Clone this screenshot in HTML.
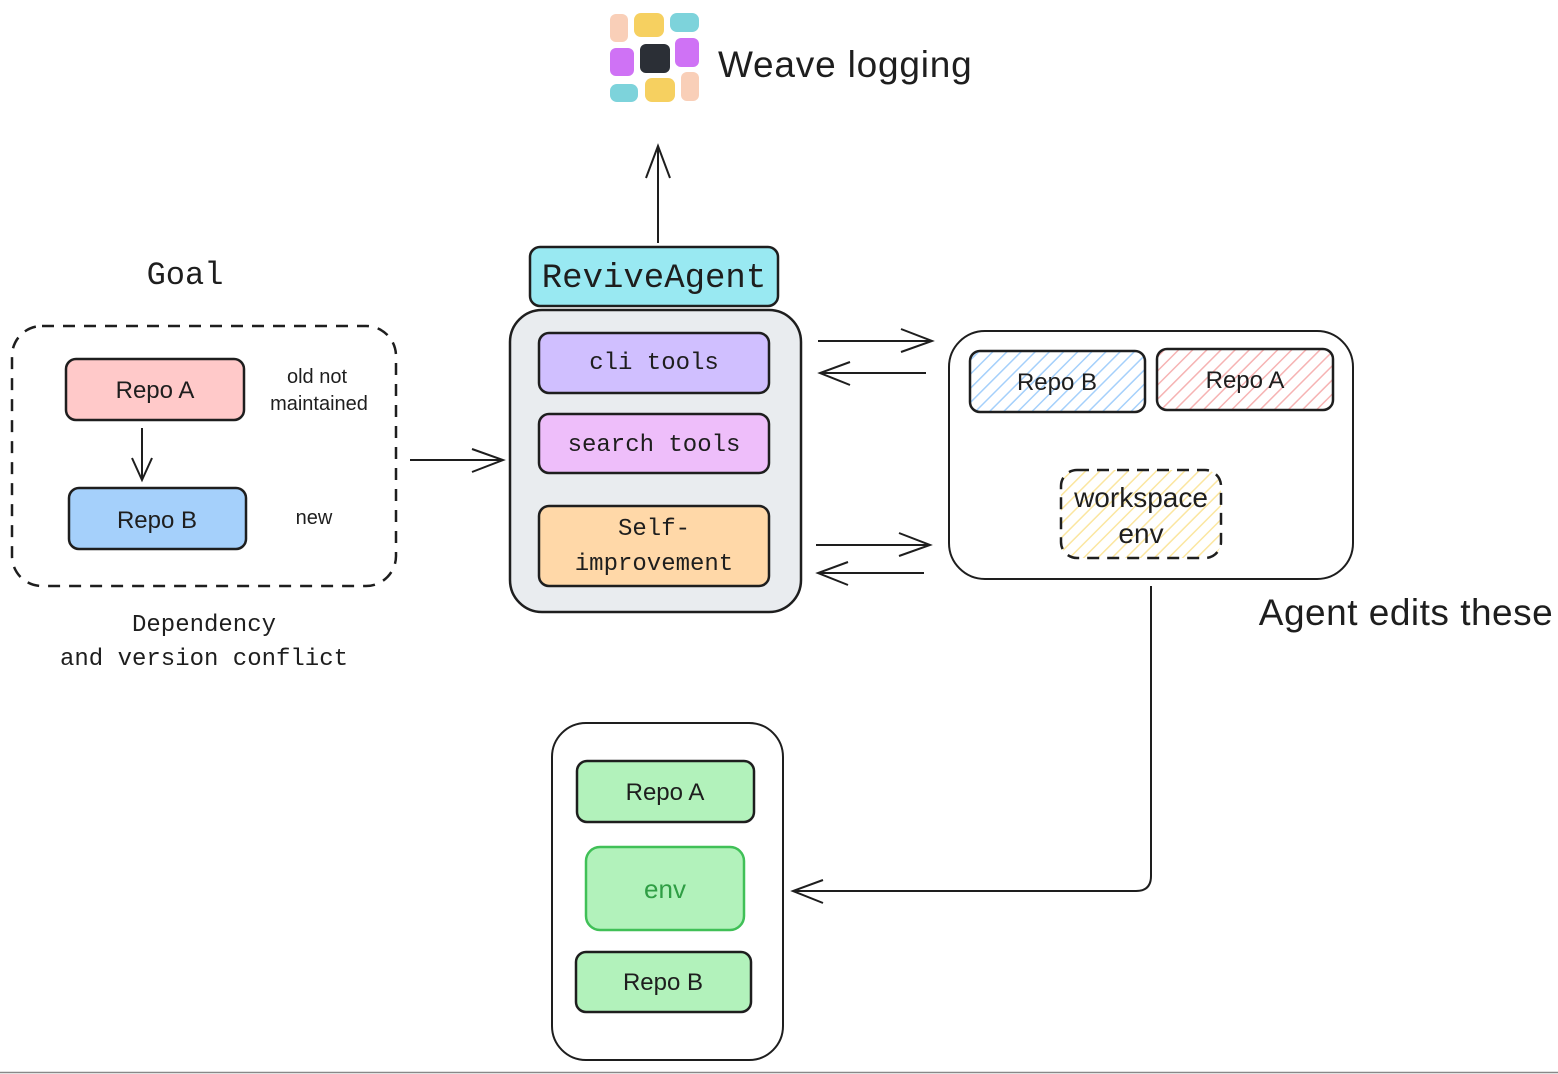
<!DOCTYPE html>
<html><head><meta charset="utf-8"><style>
html,body{margin:0;padding:0;background:#fff}
svg{display:block}
text{font-family:"Liberation Sans",sans-serif;fill:#1e1e1e}
.m{font-family:"Liberation Mono",monospace}
</style></head><body>
<svg width="1558" height="1074" viewBox="0 0 1558 1074" xmlns="http://www.w3.org/2000/svg">
<defs>
<pattern id="hb" width="10" height="10" patternUnits="userSpaceOnUse" patternTransform="rotate(45)"><rect width="10" height="10" fill="#fff"/><line x1="0" y1="0" x2="0" y2="10" stroke="#a5d0fb" stroke-width="3"/></pattern>
<pattern id="hr" width="10" height="10" patternUnits="userSpaceOnUse" patternTransform="rotate(45)"><rect width="10" height="10" fill="#fff"/><line x1="0" y1="0" x2="0" y2="10" stroke="#f6b3b3" stroke-width="3"/></pattern>
<pattern id="hy" width="10" height="10" patternUnits="userSpaceOnUse" patternTransform="rotate(45)"><rect width="10" height="10" fill="#fff"/><line x1="0" y1="0" x2="0" y2="10" stroke="#fbe6a0" stroke-width="3"/></pattern>
</defs>
<g>
<rect x="610" y="14" width="18" height="28" rx="6" fill="#f9cfb8"/>
<rect x="634" y="13" width="30" height="24" rx="7" fill="#f6d060"/>
<rect x="670" y="13" width="29" height="19" rx="7" fill="#7dd3db"/>
<rect x="610" y="48" width="24" height="28" rx="6" fill="#cf72f5"/>
<rect x="640" y="44" width="30" height="29" rx="6" fill="#2b2f36"/>
<rect x="675" y="38" width="24" height="29" rx="6" fill="#cf72f5"/>
<rect x="610" y="84" width="28" height="18" rx="7" fill="#7dd3db"/>
<rect x="645" y="78" width="30" height="24" rx="7" fill="#f6d060"/>
<rect x="681" y="72" width="18" height="29" rx="6" fill="#f9cfb8"/>
</g>
<text x="718" y="77" font-size="37" letter-spacing="0.8">Weave logging</text>
<path d="M658 243 V146 M646 178 L658 146 L670 178" stroke="#1e1e1e" stroke-width="2" fill="none"/>
<text x="185" y="284" font-size="32" text-anchor="middle" class="m">Goal</text>
<rect x="12" y="326" width="384" height="260" rx="30" fill="none" stroke="#1e1e1e" stroke-width="2.5" stroke-dasharray="12 9"/>
<rect x="66" y="359" width="178" height="61" rx="10" fill="#ffc9c9" stroke="#1e1e1e" stroke-width="2.5"/>
<text x="155" y="398" font-size="24" text-anchor="middle">Repo A</text>
<rect x="69" y="488" width="177" height="61" rx="10" fill="#a5d0fb" stroke="#1e1e1e" stroke-width="2.5"/>
<text x="157" y="528" font-size="24" text-anchor="middle">Repo B</text>
<path d="M142 428 V480 M132 458 L142 480 L152 458" stroke="#1e1e1e" stroke-width="2" fill="none"/>
<text x="317" y="383" font-size="20" text-anchor="middle">old not</text>
<text x="319" y="410" font-size="20" text-anchor="middle">maintained</text>
<text x="314" y="524" font-size="20" text-anchor="middle">new</text>
<text x="204" y="631" font-size="24" text-anchor="middle" class="m">Dependency</text>
<text x="204" y="665" font-size="24" text-anchor="middle" class="m">and version conflict</text>
<path d="M410 460 H503 M472 449 L503 460 L472 472" stroke="#1e1e1e" stroke-width="2" fill="none"/>
<rect x="510" y="310" width="291" height="302" rx="32" fill="#e9ecef" stroke="#1e1e1e" stroke-width="2.5"/>
<rect x="530" y="247" width="248" height="59" rx="10" fill="#99e9f2" stroke="#1e1e1e" stroke-width="2.5"/>
<text x="654" y="287" font-size="34" text-anchor="middle" class="m">ReviveAgent</text>
<rect x="539" y="333" width="230" height="60" rx="10" fill="#d0bfff" stroke="#1e1e1e" stroke-width="2.5"/>
<text x="654" y="369" font-size="24" text-anchor="middle" class="m">cli tools</text>
<rect x="539" y="414" width="230" height="59" rx="10" fill="#eebefa" stroke="#1e1e1e" stroke-width="2.5"/>
<text x="654" y="451" font-size="24" text-anchor="middle" class="m">search tools</text>
<rect x="539" y="506" width="230" height="80" rx="10" fill="#ffd8a8" stroke="#1e1e1e" stroke-width="2.5"/>
<text x="654" y="535" font-size="24" text-anchor="middle" class="m">Self-</text>
<text x="654" y="570" font-size="24" text-anchor="middle" class="m">improvement</text>
<g stroke="#1e1e1e" stroke-width="2" fill="none">
<path d="M818 341 H932 M901 329 L932 341 L901 352"/>
<path d="M926 373 H820 M850 362 L820 373 L850 385"/>
<path d="M816 545 H930 M899 533 L930 545 L899 556"/>
<path d="M924 573 H818 M848 562 L818 573 L848 585"/>
<path d="M1151 586 V876 Q1151 891 1136 891 H793 M823 880 L793 891 L823 903"/>
</g>
<rect x="949" y="331" width="404" height="248" rx="36" fill="#fff" stroke="#1e1e1e" stroke-width="2"/>
<rect x="970" y="351" width="175" height="61" rx="10" fill="url(#hb)" stroke="#1e1e1e" stroke-width="2.5"/>
<text x="1057" y="390" font-size="24" text-anchor="middle">Repo B</text>
<rect x="1157" y="349" width="176" height="61" rx="10" fill="url(#hr)" stroke="#1e1e1e" stroke-width="2.5"/>
<text x="1245" y="388" font-size="24" text-anchor="middle">Repo A</text>
<rect x="1061" y="470" width="160" height="88" rx="16" fill="url(#hy)" stroke="#1e1e1e" stroke-width="2.5" stroke-dasharray="12 8"/>
<text x="1141" y="507" font-size="28" text-anchor="middle">workspace</text>
<text x="1141" y="543" font-size="28" text-anchor="middle">env</text>
<text x="1406" y="625" font-size="37" text-anchor="middle" letter-spacing="0.5">Agent edits these</text>
<rect x="552" y="723" width="231" height="337" rx="34" fill="#fff" stroke="#1e1e1e" stroke-width="2"/>
<rect x="577" y="761" width="177" height="61" rx="10" fill="#b2f2bb" stroke="#1e1e1e" stroke-width="2.5"/>
<text x="665" y="800" font-size="24" text-anchor="middle">Repo A</text>
<rect x="586" y="847" width="158" height="83" rx="14" fill="#b2f2bb" stroke="#40c057" stroke-width="2.5"/>
<text x="665" y="898" font-size="26" text-anchor="middle" style="fill:#2f9e44">env</text>
<rect x="576" y="952" width="175" height="60" rx="10" fill="#b2f2bb" stroke="#1e1e1e" stroke-width="2.5"/>
<text x="663" y="990" font-size="24" text-anchor="middle">Repo B</text>
<line x1="0" y1="1072.5" x2="1558" y2="1072.5" stroke="#888" stroke-width="1.5"/>
</svg>
</body></html>
